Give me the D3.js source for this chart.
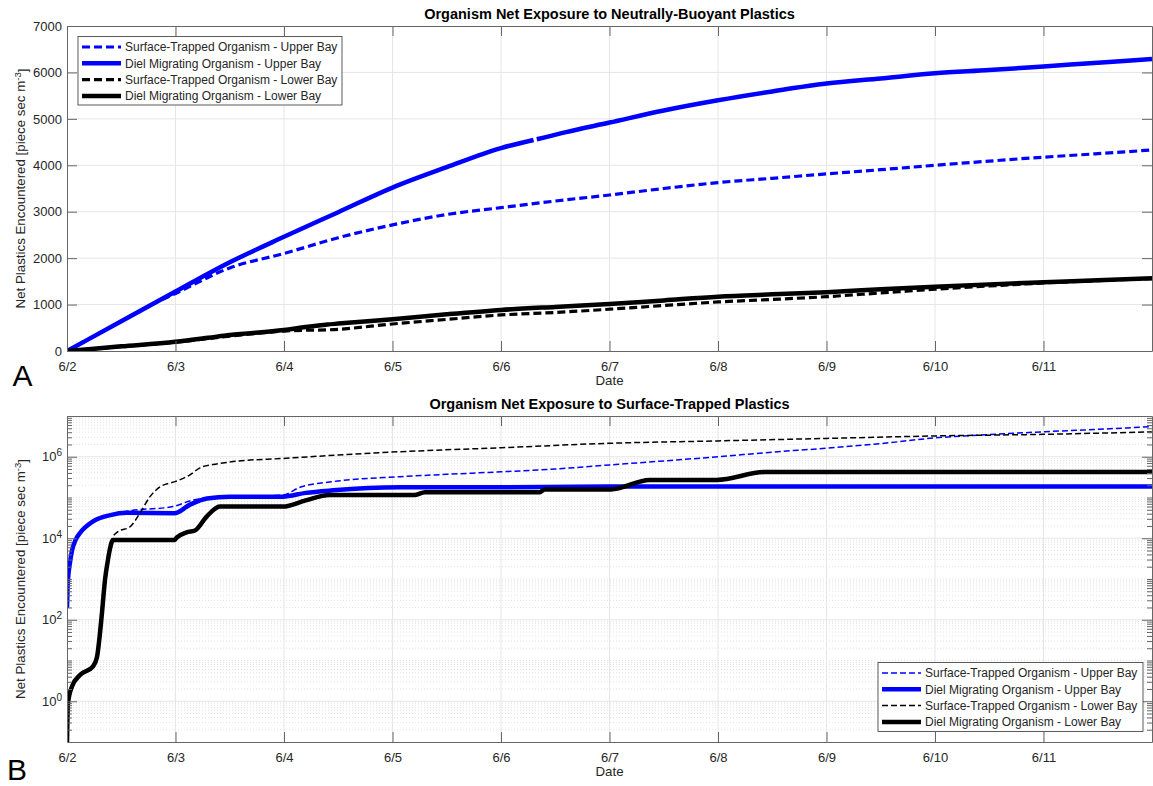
<!DOCTYPE html>
<html>
<head>
<meta charset="utf-8">
<title>Organism Net Exposure</title>
<script src="https://d3js.org/d3.v7.min.js"></script>
<style>
body {
	margin: 0;
	background-color: white;
}
svg {
	display: block;
	font-family: "Liberation Sans", Arial, sans-serif;
}
.axis text {
	font-size: 13px;
	fill: #262626;
}
.axis line, .axis path {
	stroke: #666;
	stroke-width: 1;
}
.grid line {
	stroke: #e6e6e6;
	stroke-width: 1;
}
.minor line {
	stroke: #e3e3e3;
	stroke-width: 1;
	stroke-dasharray: 1,2;
}
.title {
	font-size: 14.5px;
	font-weight: bold;
	fill: black;
}
.label {
	font-size: 13.3px;
	fill: #262626;
}
.panel-letter {
	font-size: 30px;
	fill: black;
}
.legend text {
	font-size: 12px;
	fill: #262626;
}
.series {
	fill: none;
	stroke-linejoin: round;
}
</style>
</head>
<body>
<svg id="chart" width="1153" height="786"></svg>
<script>
/* globals d3 */
(function() {
"use strict";

// x axis: day of June
const xTickDays = [2, 3, 4, 5, 6, 7, 8, 9, 10, 11];
const xTickLabels = ["6/2", "6/3", "6/4", "6/5", "6/6", "6/7", "6/8", "6/9", "6/10", "6/11"];
const linearTicks = [0, 1000, 2000, 3000, 4000, 5000, 6000, 7000];
const logMajorTicks = [1e0, 1e2, 1e4, 1e6];
const logTickExponents = ["0", "2", "4", "6"];

const seriesNames = [
	"Surface-Trapped Organism - Upper Bay",
	"Diel Migrating Organism - Upper Bay",
	"Surface-Trapped Organism - Lower Bay",
	"Diel Migrating Organism - Lower Bay",
];

// Panel A: neutrally-buoyant plastics, [day, value]
const neutralSurfaceUpper = [[2, 0], [2.5, 640], [2.8, 1020], [3, 1240], [3.5, 1790], [4, 2100],
	[4.5, 2440], [5, 2716], [5.5, 2940], [6, 3088], [6.5, 3230], [7, 3360], [7.5, 3500], [8, 3627],
	[8.5, 3720], [9, 3815], [9.5, 3905], [10, 4000], [10.5, 4090], [11, 4175], [11.5, 4250], [12, 4330]];
const neutralDielUpper = [[2, 0], [2.5, 640], [3, 1280], [3.5, 1910], [4, 2460], [4.5, 2990],
	[5, 3520], [5.5, 3960], [6, 4370], [6.3, 4545], [6.31, null], [6.33, 4560], [6.6, 4715],
	[7, 4920], [7.5, 5180], [8, 5400], [8.5, 5590], [9, 5760], [9.5, 5870], [10, 5980],
	[10.5, 6050], [11, 6130], [11.5, 6210], [12, 6290]];
const neutralSurfaceLower = [[2, 0], [2.5, 95], [3, 190], [3.5, 320], [4, 430], [4.5, 467],
	[5, 582], [5.5, 680], [6, 776], [6.5, 830], [7, 900], [7.5, 980], [8, 1056], [8.5, 1110],
	[9, 1170], [9.5, 1250], [10, 1330], [10.5, 1400], [11, 1465], [11.5, 1515], [12, 1560]];
const neutralDielLower = [[2, 0], [2.5, 100], [3, 200], [3.3, 285], [3.5, 345], [4, 450],
	[4.2, 515], [4.4, 570], [4.5, 590], [5, 683], [5.5, 790], [6, 884], [6.5, 950], [7, 1010],
	[7.5, 1090], [8, 1170], [8.5, 1220], [9, 1265], [9.5, 1330], [10, 1386], [10.5, 1435],
	[11, 1480], [11.5, 1525], [12, 1567]];

// Panel B: surface-trapped plastics, [day, value]
const surfaceSurfaceUpper = [[2, 195], [2.005, 600], [2.009, 950], [2.028, 2600], [2.046, 5000],
	[2.083, 9500], [2.12, 13500], [2.24, 26000], [2.4, 37000], [2.553, 46000], [2.977, 60000],
	[3.15, 85000], [3.345, 100000], [3.99, 115000], [4.147, 178000], [4.45, 245000],
	[5.068, 324000], [5.5, 370000], [6, 427000], [6.5, 500000], [7, 630000], [7.5, 790000],
	[8, 1.0e6], [8.5, 1.3e6], [9, 1.62e6], [9.5, 2.1e6], [10, 2.9e6], [10.5, 3.5e6],
	[11, 4.1e6], [11.5, 4.7e6], [12, 5.5e6]];
const surfaceDielUpper = [[2, 195], [2.005, 600], [2.009, 950], [2.028, 2600], [2.046, 5000],
	[2.083, 9500], [2.12, 13500], [2.24, 26000], [2.4, 37000], [2.55, 42000], [2.99, 41000],
	[3.13, 66000], [3.29, 95000], [3.5, 105000], [3.99, 105000], [4.2, 130000], [4.45, 150000],
	[5.07, 178000], [6.4, 180000], [7, 185000], [12, 185000]];
const surfaceSurfaceLower = [[2.304, 47], [2.322, 145], [2.35, 950], [2.366, 1660],
	[2.424, 11000], [2.47, 14500], [2.58, 19000], [2.672, 41000], [2.765, 105000],
	[2.857, 182000], [2.995, 245000], [3.103, 324000], [3.253, 575000], [3.345, 645000],
	[3.53, 760000], [3.99, 910000], [5.068, 1.33e6], [6, 1.66e6], [7, 2.14e6], [8, 2.45e6],
	[9, 2.82e6], [10, 3.24e6], [11, 3.55e6], [12, 4.07e6]];
const surfaceDielLower = [[2, 0.1], [2.009, 0.9], [2.046, 2.3], [2.12, 4.4], [2.24, 7.2],
	[2.276, 12], [2.304, 47], [2.322, 145], [2.35, 950], [2.378, 3000], [2.396, 5500],
	[2.424, 9000], [2.99, 9000], [3.013, 10500], [3.103, 14000], [3.179, 15500], [3.287, 34000],
	[3.41, 60000], [3.99, 60000], [4.2, 85000], [4.423, 115000], [5.2, 115000], [5.3, 135000],
	[6.357, 135000], [6.403, 158000], [7.011, 158000], [7.37, 270000], [7.988, 270000],
	[8.43, 420000], [12, 420000]];

const svg = d3.select("#chart");
const left = 67, right = 1152;
const x = d3.scaleLinear([2, 12], [left, right]);

function addSeries(g, y, data, style, clipId)
{
	const line = d3.line()
		.defined(d => d[1] !== null)
		.x(d => x(d[0]))
		.y(d => y(d[1]))
		.curve(d3.curveMonotoneX);
	g.append("path")
		.attr("class", "series")
		.attr("clip-path", "url(#" + clipId + ")")
		.attr("stroke", style.color)
		.attr("stroke-width", style.width)
		.attr("stroke-dasharray", style.dash)
		.attr("d", line(data));
}

function addLegend(g, box, styles)
{
	const lg = g.append("g").attr("class", "legend");
	lg.append("rect")
		.attr("x", box.x).attr("y", box.y)
		.attr("width", box.w).attr("height", box.h)
		.attr("fill", "white").attr("stroke", "#333").attr("stroke-width", 0.8);
	seriesNames.forEach((name, i) => {
		const cy = box.y + 10.5 + i * 16.3;
		lg.append("line")
			.attr("x1", box.x + 4).attr("x2", box.x + 43)
			.attr("y1", cy).attr("y2", cy)
			.attr("stroke", styles[i].color)
			.attr("stroke-width", styles[i].width)
			.attr("stroke-dasharray", styles[i].dash);
		lg.append("text")
			.attr("x", box.x + 47).attr("y", cy)
			.attr("dy", "0.35em")
			.text(name);
	});
}

function addFrame(g, y, top, bottom, yTickValues, opts)
{
	// grid
	g.append("g").attr("class", "grid")
		.selectAll("line").data(xTickDays.slice(1)).join("line")
		.attr("x1", d => x(d)).attr("x2", d => x(d))
		.attr("y1", top).attr("y2", bottom);
	if (opts.minor)
		g.append("g").attr("class", "minor")
			.selectAll("line").data(opts.minor).join("line")
			.attr("x1", left).attr("x2", right)
			.attr("y1", d => y(d)).attr("y2", d => y(d));
	g.append("g").attr("class", "grid")
		.selectAll("line").data(yTickValues.filter(v => y(v) > top + 1 && y(v) < bottom - 1)).join("line")
		.attr("x1", left).attr("x2", right)
		.attr("y1", d => y(d)).attr("y2", d => y(d));
}

function addAxes(g, y, top, bottom, yTickValues, opts)
{
	g.append("g").attr("class", "axis")
		.attr("transform", "translate(0," + bottom + ")")
		.call(d3.axisBottom(x).tickValues(xTickDays)
			.tickFormat((d, i) => xTickLabels[i])
			.tickSizeInner(-10).tickSizeOuter(0).tickPadding(10.5));
	g.append("g").attr("class", "axis")
		.attr("transform", "translate(0," + top + ")")
		.call(d3.axisTop(x).tickValues(xTickDays).tickFormat("")
			.tickSizeInner(-10).tickSizeOuter(0));
	const yl = g.append("g").attr("class", "axis")
		.attr("transform", "translate(" + left + ",0)")
		.call(d3.axisLeft(y).tickValues(yTickValues)
			.tickFormat(opts.format || "")
			.tickSizeInner(-10).tickSizeOuter(0).tickPadding(5));
	g.append("g").attr("class", "axis")
		.attr("transform", "translate(" + right + ",0)")
		.call(d3.axisRight(y).tickValues(yTickValues).tickFormat("")
			.tickSizeInner(-10).tickSizeOuter(0));
	if (opts.minor) {
		g.append("g").attr("class", "axis")
			.attr("transform", "translate(" + left + ",0)")
			.call(d3.axisLeft(y).tickValues(opts.minor).tickFormat("").tickSize(-5))
			.select(".domain").remove();
		g.append("g").attr("class", "axis")
			.attr("transform", "translate(" + right + ",0)")
			.call(d3.axisRight(y).tickValues(opts.minor).tickFormat("").tickSize(-5))
			.select(".domain").remove();
	}
	return yl;
}

function addTexts(g, top, bottom, title, letter, letterPos)
{
	const cx = (left + right) / 2;
	g.append("text").attr("class", "title")
		.attr("x", cx).attr("y", top - 7.5)
		.attr("text-anchor", "middle").text(title);
	g.append("text").attr("class", "label")
		.attr("x", cx).attr("y", bottom + 34)
		.attr("text-anchor", "middle").text("Date");
	const yt = g.append("text").attr("class", "label")
		.attr("transform", "translate(25," + (top + bottom) / 2 + ") rotate(-90)")
		.attr("text-anchor", "middle");
	yt.append("tspan").text("Net Plastics Encountered [piece sec m");
	yt.append("tspan").attr("dy", "-0.45em").attr("font-size", "9.5px").text("-3");
	yt.append("tspan").attr("dy", "0.45em").text("]");
	g.append("text").attr("class", "panel-letter")
		.attr("x", letterPos[0]).attr("y", letterPos[1]).text(letter);
}

function clip(id, top, bottom)
{
	svg.append("clipPath").attr("id", id)
		.append("rect")
		.attr("x", left).attr("y", top)
		.attr("width", right - left).attr("height", bottom - top);
}

function panelA()
{
	const top = 26, bottom = 351;
	const y = d3.scaleLinear([0, 7000], [bottom, top]);
	const g = svg.append("g");
	clip("clipA", top, bottom);
	addFrame(g, y, top, bottom, linearTicks, {});
	const styles = [
		{color: "#0000ff", width: 3.2, dash: "8,4"},
		{color: "#0000ff", width: 4.5, dash: null},
		{color: "#000000", width: 3.2, dash: "8,4"},
		{color: "#000000", width: 4.5, dash: null},
	];
	[neutralSurfaceUpper, neutralDielUpper, neutralSurfaceLower, neutralDielLower]
		.forEach((data, i) => addSeries(g, y, data, styles[i], "clipA"));
	addAxes(g, y, top, bottom, linearTicks, {format: d3.format("d")});
	addTexts(g, top, bottom, "Organism Net Exposure to Neutrally-Buoyant Plastics", "A", [12.5, 386]);
	addLegend(g, {x: 78, y: 36.5, w: 264, h: 68.5}, styles);
}

function panelB()
{
	const top = 416, bottom = 742;
	const y = d3.scaleLog([0.1, 1e7], [bottom, top]);
	const g = svg.append("g");
	clip("clipB", top, bottom);
	const minor = [];
	for (let e = -1; e < 7; e++)
		for (let k = 1; k < 10; k++) {
			const v = k * Math.pow(10, e);
			if (k === 1 && e % 2 === 0)
				continue;
			if (v > 0.1 * 1.0001)
				minor.push(v);
		}
	addFrame(g, y, top, bottom, logMajorTicks, {minor: minor});
	const styles = [
		{color: "#0000ff", width: 1.5, dash: "6,3"},
		{color: "#0000ff", width: 4.5, dash: null},
		{color: "#000000", width: 1.5, dash: "6,3"},
		{color: "#000000", width: 4.5, dash: null},
	];
	[surfaceSurfaceUpper, surfaceDielUpper, surfaceSurfaceLower, surfaceDielLower]
		.forEach((data, i) => addSeries(g, y, data, styles[i], "clipB"));
	const yl = addAxes(g, y, top, bottom, logMajorTicks, {minor: minor});
	yl.selectAll(".tick text").each(function(d, i) {
		const t = d3.select(this);
		t.append("tspan").text("10");
		t.append("tspan").attr("dy", "-0.5em").attr("font-size", "10px").text(logTickExponents[i]);
	});
	addTexts(g, top, bottom, "Organism Net Exposure to Surface-Trapped Plastics", "B", [7, 780]);
	addLegend(g, {x: 878, y: 662.5, w: 265, h: 69}, styles);
}

panelA();
panelB();
})();
</script>
</body>
</html>
